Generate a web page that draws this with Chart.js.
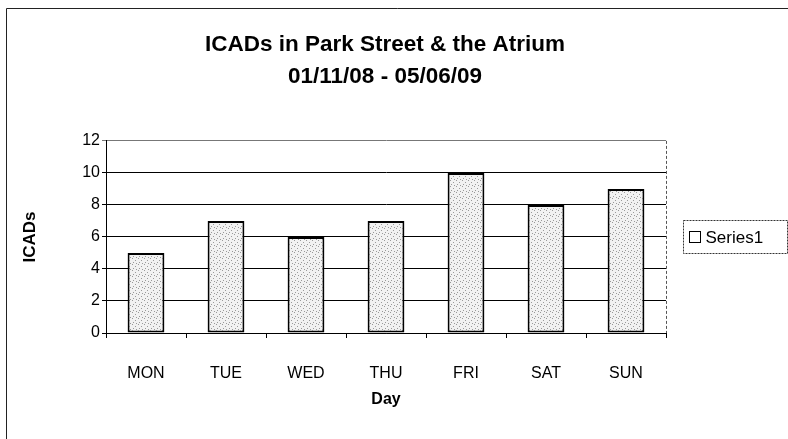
<!DOCTYPE html>
<html lang="en">
<head>
    <meta charset="UTF-8">
    <title>ICADs in Park Street & the Atrium</title>
    <script src="https://cdn.jsdelivr.net/npm/chart.js"></script>
    <style>
        html, body {
            margin: 0;
            padding: 0;
            background: #fff;
        }
        #wrap {
            width: 788px;
            height: 439px;
        }
    </style>
</head>
<body>
    <div id="wrap"><canvas id="icadChart" width="788" height="439"></canvas></div>

    <script>
        // data
        var days = ['MON', 'TUE', 'WED', 'THU', 'FRI', 'SAT', 'SUN'];
        var icads = [5, 7, 6, 7, 10, 8, 9];
        var seriesName = 'Series1';
        var titleLines = ['ICADs in Park Street & the Atrium', '01/11/08 - 05/06/09'];

        var fontFamily = "Arial, 'Liberation Sans', sans-serif";

        // stippled grey fill like the scanned bars
        function makeStipple() {
            var c = document.createElement('canvas');
            c.width = 6;
            c.height = 6;
            var g = c.getContext('2d');
            g.fillStyle = '#f2f2f2';
            g.fillRect(0, 0, 6, 6);
            g.fillStyle = '#9a9a9a';
            g.fillRect(0, 0, 1, 1);
            g.fillRect(3, 2, 1, 1);
            g.fillRect(1, 4, 1, 1);
            g.fillRect(4, 5, 1, 1);
            return g.createPattern(c, 'repeat');
        }

        // outer frame (left + top edges) and boxed legend
        var framePlugin = {
            id: 'frame',
            afterDraw: function(chart) {
                var ctx = chart.ctx;
                var a = chart.chartArea;
                ctx.save();
                ctx.strokeStyle = '#222';
                ctx.lineWidth = 1;
                ctx.beginPath();
                ctx.moveTo(6.5, 439);
                ctx.lineTo(6.5, 8.5);
                ctx.lineTo(788, 8.5);
                ctx.stroke();

                // dashed right edge of the plot area
                ctx.strokeStyle = '#555';
                ctx.setLineDash([3, 2]);
                ctx.beginPath();
                ctx.moveTo(Math.round(a.right) + 0.5, a.top);
                ctx.lineTo(Math.round(a.right) + 0.5, a.bottom);
                ctx.stroke();

                // legend
                var lx = a.right + 17.5, ly = 220.5, lw = 104, lh = 33;
                ctx.strokeStyle = '#333';
                ctx.setLineDash([2, 1]);
                ctx.strokeRect(lx, ly, lw, lh);
                ctx.setLineDash([]);
                ctx.strokeStyle = '#000';
                ctx.fillStyle = '#fff';
                ctx.fillRect(lx + 6, ly + 11, 11, 11);
                ctx.strokeRect(lx + 6, ly + 11, 11, 11);
                ctx.fillStyle = '#000';
                ctx.font = '17px ' + fontFamily;
                ctx.textBaseline = 'middle';
                ctx.fillText(chart.data.datasets[0].label, lx + 22, ly + lh / 2 + 1);
                ctx.restore();
            }
        };

        var ctx = document.getElementById('icadChart').getContext('2d');
        var chart = new Chart(ctx, {
            type: 'bar',
            data: {
                labels: days,
                datasets: [{
                    label: seriesName,
                    data: icads,
                    backgroundColor: makeStipple(),
                    borderColor: '#000',
                    borderWidth: 2,
                    borderSkipped: false,
                    barPercentage: 0.46,
                    categoryPercentage: 1.0
                }]
            },
            options: {
                responsive: false,
                animation: false,
                layout: {
                    padding: { left: 0, right: 18, top: 0, bottom: 26 }
                },
                plugins: {
                    legend: { display: false },
                    tooltip: { enabled: false },
                    title: {
                        display: true,
                        text: titleLines,
                        color: '#000',
                        font: { family: fontFamily, size: 22.5, weight: 'bold', lineHeight: 1.42 },
                        padding: { top: 29, bottom: 48 }
                    }
                },
                scales: {
                    x: {
                        grid: {
                            display: true,
                            drawOnChartArea: false,
                            color: '#000',
                            tickLength: 5
                        },
                        border: { color: '#000', width: 1 },
                        ticks: {
                            color: '#000',
                            font: { family: fontFamily, size: 16 },
                            padding: 26
                        },
                        title: {
                            display: true,
                            text: 'Day',
                            color: '#000',
                            font: { family: fontFamily, size: 16, weight: 'bold' },
                            padding: { top: 4 }
                        },
                        afterFit: function(scale) {
                            scale.height = 80;
                        }
                    },
                    y: {
                        min: 0,
                        max: 12,
                        ticks: {
                            stepSize: 2,
                            color: '#000',
                            font: { family: fontFamily, size: 16 },
                            padding: 2
                        },
                        grid: {
                            color: function(c) {
                                return c.tick && c.tick.value === 12 ? '#777' : '#000';
                            },
                            lineWidth: 1,
                            tickLength: 4
                        },
                        border: { color: '#000', width: 1 },
                        title: {
                            display: true,
                            text: 'ICADs',
                            color: '#000',
                            font: { family: fontFamily, size: 17, weight: 'bold' },
                            padding: { top: 20, bottom: 4 }
                        },
                        afterFit: function(scale) {
                            scale.width = 106;
                        }
                    },
                    // empty right-hand strip that leaves room for the legend box
                    side: {
                        type: 'linear',
                        position: 'right',
                        display: true,
                        grid: { display: false, drawTicks: false },
                        border: { display: false },
                        ticks: { display: false },
                        afterFit: function(scale) {
                            scale.width = 104;
                        }
                    }
                }
            },
            plugins: [framePlugin]
        });
    </script>
</body>
</html>
